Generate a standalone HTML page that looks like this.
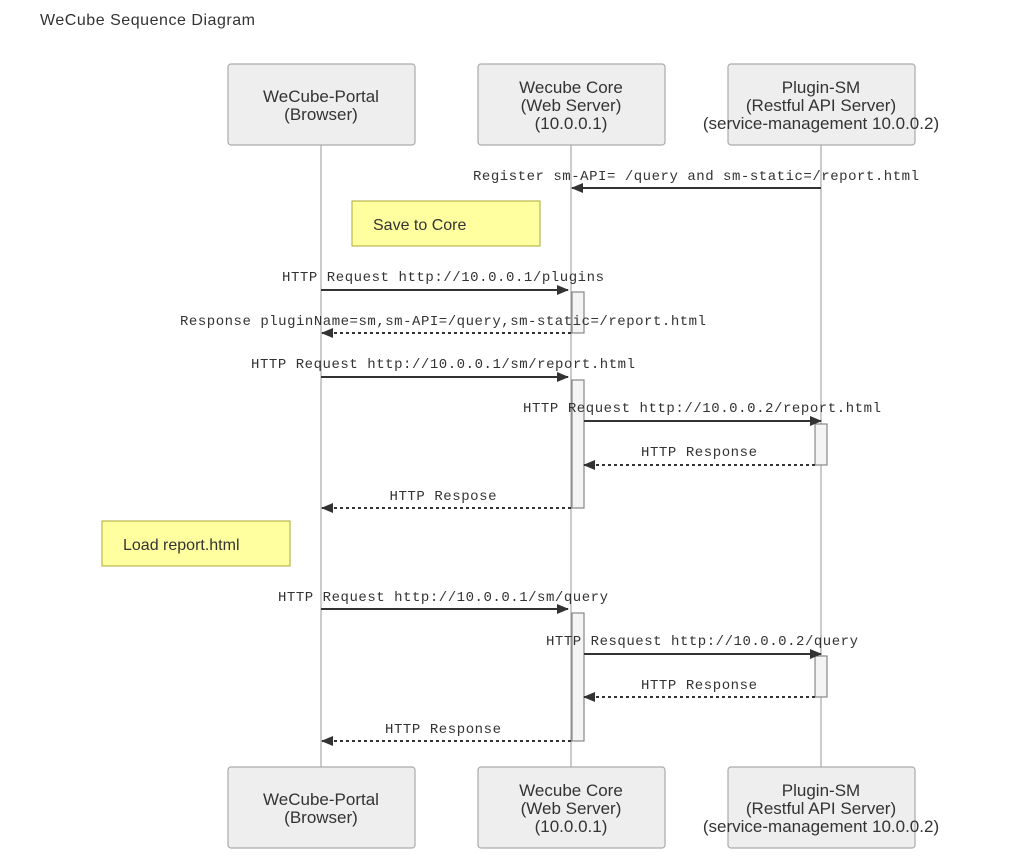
<!DOCTYPE html>
<html><head><meta charset="utf-8"><style>
body{margin:0;background:#fff;width:1011px;height:865px;overflow:hidden}
svg{display:block}
.t{font-family:"Liberation Sans",sans-serif;fill:#333}
.m{font-family:"Liberation Mono",monospace;font-size:14px;fill:#333;text-anchor:middle}
.box{fill:#eee;stroke:#aaa;stroke-width:1.2}
.act{fill:#f4f4f4;stroke:#888;stroke-width:1.2}
.s{stroke:#333;stroke-width:2}
.d{stroke:#333;stroke-width:2;stroke-dasharray:3,3}
.note{fill:#ffffa0;stroke:#aaaa33;stroke-width:1}
</style></head><body>
<svg width="1011" height="865" viewBox="0 0 1011 865">
<defs><marker id="a" markerWidth="12" markerHeight="10" refX="11" refY="5" orient="auto" markerUnits="userSpaceOnUse"><path d="M0,0 L12,5 L0,10 z" fill="#333"/></marker></defs>
<text x="40" y="25" class="t" font-size="16" textLength="215">WeCube Sequence Diagram</text>
<line x1="321" y1="145" x2="321" y2="767" stroke="#999"/>
<line x1="571" y1="145" x2="571" y2="767" stroke="#999"/>
<line x1="821" y1="145" x2="821" y2="767" stroke="#999"/>
<g class="t" font-size="17" text-anchor="middle">
<rect class="box" x="228" y="64" width="187" height="81" rx="3"/>
<text x="321" y="102">WeCube-Portal</text><text x="321" y="120">(Browser)</text>
<rect class="box" x="478" y="64" width="187" height="81" rx="3"/>
<text x="571" y="93">Wecube Core</text><text x="571" y="111">(Web Server)</text><text x="571" y="129">(10.0.0.1)</text>
<rect class="box" x="728" y="64" width="187" height="81" rx="3"/>
<text x="821" y="93">Plugin-SM</text><text x="821" y="111">(Restful API Server)</text><text x="821" y="129">(service-management 10.0.0.2)</text>
<rect class="box" x="228" y="767" width="187" height="81" rx="3"/>
<text x="321" y="805">WeCube-Portal</text><text x="321" y="823">(Browser)</text>
<rect class="box" x="478" y="767" width="187" height="81" rx="3"/>
<text x="571" y="796">Wecube Core</text><text x="571" y="814">(Web Server)</text><text x="571" y="832">(10.0.0.1)</text>
<rect class="box" x="728" y="767" width="187" height="81" rx="3"/>
<text x="821" y="796">Plugin-SM</text><text x="821" y="814">(Restful API Server)</text><text x="821" y="832">(service-management 10.0.0.2)</text>
</g>
<rect class="act" x="572" y="292" width="12" height="41"/>
<rect class="act" x="572" y="380" width="12" height="128"/>
<rect class="act" x="815" y="424" width="12" height="41"/>
<rect class="act" x="572" y="613" width="12" height="128"/>
<rect class="act" x="815" y="656" width="12" height="41"/>
<rect class="note" x="352" y="201" width="188" height="45"/>
<text x="373" y="230" class="t" font-size="16">Save to Core</text>
<rect class="note" x="102" y="521" width="188" height="45"/>
<text x="123" y="550" class="t" font-size="16">Load report.html</text>
<line class="s" x1="821" y1="188" x2="572" y2="188" marker-end="url(#a)"/>
<text class="m" x="696" y="180" textLength="446">Register sm-API= /query and sm-static=/report.html</text>
<line class="s" x1="321" y1="290" x2="568" y2="290" marker-end="url(#a)"/>
<text class="m" x="443" y="281" textLength="322">HTTP Request http://10.0.0.1/plugins</text>
<line class="d" x1="571" y1="333" x2="322" y2="333" marker-end="url(#a)"/>
<text class="m" x="443" y="325" textLength="526">Response pluginName=sm,sm-API=/query,sm-static=/report.html</text>
<line class="s" x1="321" y1="377" x2="568" y2="377" marker-end="url(#a)"/>
<text class="m" x="443" y="368" textLength="384">HTTP Request http://10.0.0.1/sm/report.html</text>
<line class="s" x1="584" y1="421" x2="821" y2="421" marker-end="url(#a)"/>
<text class="m" x="702" y="412" textLength="358">HTTP Request http://10.0.0.2/report.html</text>
<line class="d" x1="815" y1="465" x2="584" y2="465" marker-end="url(#a)"/>
<text class="m" x="699" y="456" textLength="116">HTTP Response</text>
<line class="d" x1="571" y1="508" x2="322" y2="508" marker-end="url(#a)"/>
<text class="m" x="443" y="500" textLength="107">HTTP Respose</text>
<line class="s" x1="321" y1="609" x2="568" y2="609" marker-end="url(#a)"/>
<text class="m" x="443" y="601" textLength="330">HTTP Request http://10.0.0.1/sm/query</text>
<line class="s" x1="584" y1="654" x2="821" y2="654" marker-end="url(#a)"/>
<text class="m" x="702" y="645" textLength="312">HTTP Resquest http://10.0.0.2/query</text>
<line class="d" x1="815" y1="697" x2="584" y2="697" marker-end="url(#a)"/>
<text class="m" x="699" y="689" textLength="116">HTTP Response</text>
<line class="d" x1="571" y1="741" x2="322" y2="741" marker-end="url(#a)"/>
<text class="m" x="443" y="733" textLength="116">HTTP Response</text>
</svg>
</body></html>
